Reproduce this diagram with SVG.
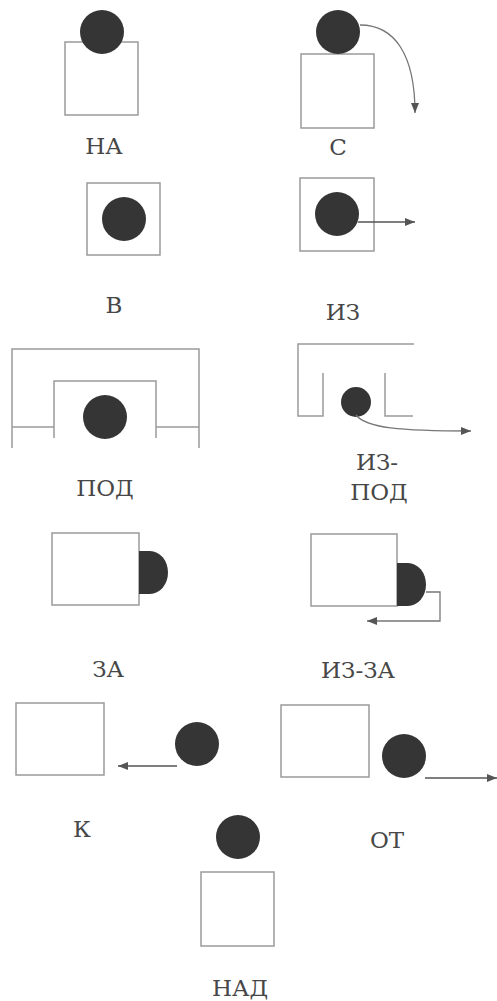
<svg xmlns="http://www.w3.org/2000/svg" width="497" height="1001" viewBox="0 0 497 1001">
<style>
.box{fill:#fff;stroke:#9a9a9a;stroke-width:1.5}
.ln{fill:none;stroke:#9a9a9a;stroke-width:1.5}
.ball{fill:#353535}
.arr{fill:none;stroke:#555;stroke-width:1.6;marker-end:url(#ah)}
.arr2{fill:none;stroke:#777;stroke-width:1.3;marker-end:url(#ah)}
.lbl{font-family:"DejaVu Serif","Liberation Serif",serif;font-size:23px;fill:#474747;text-anchor:middle}
</style>
<defs>
<marker id="ah" viewBox="0 0 10 8" refX="10" refY="4" markerWidth="10" markerHeight="8" markerUnits="userSpaceOnUse" orient="auto">
<path d="M0,0 L10,4 L0,8 Z" fill="#555"/>
</marker>
</defs>
<rect width="497" height="1001" fill="#fff"/>
<g id="na">
<rect class="box" x="65" y="42" width="73" height="73"/>
<circle class="ball" cx="102" cy="32" r="22"/>
<text class="lbl" x="104" y="154">НА</text>
</g>
<g id="s">
<rect class="box" x="301" y="54" width="73" height="74"/>
<circle class="ball" cx="338" cy="32" r="22"/>
<text class="lbl" x="338" y="155">С</text>
</g>
<g id="v">
<rect class="box" x="87" y="183" width="73" height="72"/>
<circle class="ball" cx="124" cy="219" r="22"/>
<text class="lbl" x="114" y="313">В</text>
</g>
<g id="iz">
<rect class="box" x="300" y="178" width="74" height="73"/>
<circle class="ball" cx="337" cy="214" r="22"/>
<text class="lbl" x="343" y="320">ИЗ</text>
</g>
<g id="pod">
<path class="ln" d="M12,448 V349 H199 V448 M12,427 H54 M54,438 V381 H156 V438 M156,427 H199"/>
<circle class="ball" cx="105" cy="417" r="22"/>
<text class="lbl" x="105" y="496">ПОД</text>
</g>
<g id="iz-pod">
<path class="ln" d="M414,344 H298 V416 H323 V373 M385,373 V416 H413"/>
<circle class="ball" cx="356" cy="402" r="15"/>
<text class="lbl" x="377" y="470">ИЗ-</text>
<text class="lbl" x="379" y="500">ПОД</text>
</g>
<g id="za">
<rect class="box" x="52" y="533" width="87" height="72"/>
<path class="ball" d="M139,551 H150 A18,21.5 0 0 1 150,594 H139 Z"/>
<text class="lbl" x="108" y="677">ЗА</text>
</g>
<g id="iz-za">
<rect class="box" x="311" y="534" width="86" height="72"/>
<path class="ball" d="M397,563 H408 A18,21.5 0 0 1 408,606 H397 Z"/>
<text class="lbl" x="358" y="678">ИЗ-ЗА</text>
</g>
<g id="k">
<rect class="box" x="16" y="703" width="88" height="72"/>
<circle class="ball" cx="197" cy="744" r="22"/>
<text class="lbl" x="82" y="837">К</text>
</g>
<g id="ot">
<rect class="box" x="281" y="705" width="88" height="72"/>
<circle class="ball" cx="404" cy="756" r="22"/>
<text class="lbl" x="387" y="848">ОТ</text>
</g>
<g id="nad">
<rect class="box" x="201" y="872" width="73" height="74"/>
<circle class="ball" cx="238" cy="837" r="22"/>
<text class="lbl" x="240" y="996">НАД</text>
</g>
<g id="connectors">
<path class="arr2" d="M360,25 C395,25 415,55 415,113"/>
<path class="arr" d="M358,222 H415"/>
<path class="arr2" d="M356,415 C366,428 400,431 471,431"/>
<path class="arr2" d="M426,592 H440 V621 H367"/>
<path class="arr" d="M177,766 H118"/>
<path class="arr" d="M425,778 H497"/>
</g>
</svg>
